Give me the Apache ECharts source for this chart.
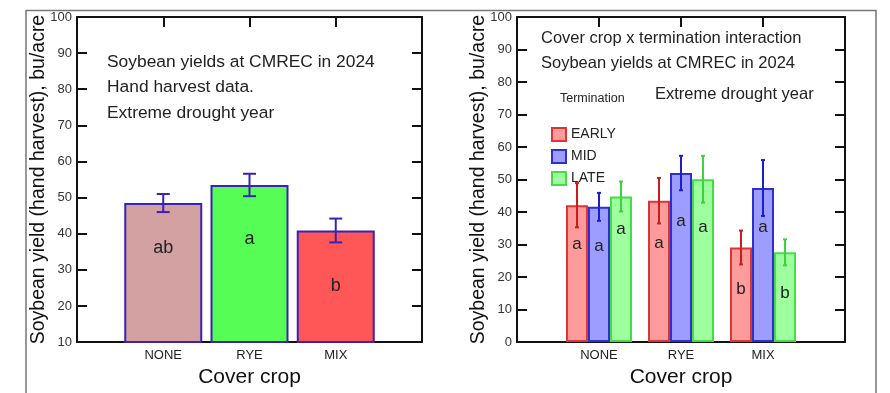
<!DOCTYPE html>
<html>
<head>
<meta charset="utf-8">
<script src="https://cdn.jsdelivr.net/npm/echarts@6/dist/echarts.min.js"></script>
<style>
  html, body { margin: 0; padding: 0; background: #fff; }
  #chart { width: 890px; height: 393px; }
</style>
</head>
<body>
<div id="chart"></div>
<script>
// cover crops on the x axis
const crops = ['NONE', 'RYE', 'MIX']
const yTicksLeft = [10, 20, 30, 40, 50, 60, 70, 80, 90, 100]
const yTicksRight = [0, 10, 20, 30, 40, 50, 60, 70, 80, 90, 100]

// left panel: cover crop main effect
const yieldMain = [48.5, 53.5, 40.9]
const errMain = [2.5, 3.1, 3.3]
const lettersMain = ['ab', 'a', 'b']
const letterAtMain = [36, 38.4, 25.6]

// right panel: cover crop x termination
const terms = ['EARLY', 'MID', 'LATE']
const yieldEarly = [42.1, 43.5, 29.1]
const yieldMid = [41.6, 52.0, 47.4]
const yieldLate = [44.8, 50.1, 27.6]
const errEarly = [6.8, 7.0, 5.2]
const errMid = [4.3, 5.3, 8.6]
const errLate = [4.6, 7.2, 4.0]
const lettersEarly = ['a', 'a', 'b']
const lettersMid = ['a', 'a', 'a']
const lettersLate = ['a', 'a', 'b']
const letterAtEarly = [30.0, 30.5, 16.3]
const letterAtMid = [29.6, 37.1, 35.2]
const letterAtLate = [34.8, 35.3, 15.1]

const FONT = '"Liberation Sans", Arial, sans-serif'
const axisCats = [''].concat(crops, [''])
const dark = '#111'

function xAxes (gridIndex) {
  return [
    {
      type: 'category', gridIndex, data: axisCats, boundaryGap: false, position: 'bottom',
      axisLine: { show: true, onZero: false, lineStyle: { color: dark, width: 2 } },
      axisTick: { show: false },
      axisLabel: { color: '#222', fontSize: 13, fontFamily: FONT, margin: 7, interval: 0 },
      name: 'Cover crop', nameLocation: 'middle', nameGap: 23,
      nameTextStyle: { fontSize: 21, color: dark, fontFamily: FONT }
    },
    {
      type: 'category', gridIndex, data: axisCats, boundaryGap: false, position: 'top',
      axisLine: { show: true, onZero: false, lineStyle: { color: dark, width: 2 } },
      axisTick: { show: true, inside: true, length: 10, lineStyle: { color: dark, width: 2 }, interval: (i, v) => v !== '' },
      axisLabel: { show: false }
    }
  ]
}

function yAxes (gridIndex, ticks) {
  const base = {
    type: 'value', gridIndex,
    min: ticks[0], max: ticks[ticks.length - 1], interval: ticks[1] - ticks[0],
    splitLine: { show: false },
    axisLine: { show: true, onZero: false, lineStyle: { color: dark, width: 2 } },
    axisTick: { show: true, inside: true, length: 10, lineStyle: { color: dark, width: 2 } }
  }
  return [
    Object.assign({}, base, {
      position: 'left',
      axisLabel: { color: '#333', fontSize: 13, margin: 5, fontFamily: FONT },
      name: 'Soybean yield (hand harvest), bu/acre', nameLocation: 'middle', nameGap: 28,
      nameMoveOverlap: false,
      nameTextStyle: { fontSize: 19.5, color: dark, fontFamily: FONT }
    }),
    Object.assign({}, base, { position: 'right', axisLabel: { show: false } })
  ]
}

// error bar + significance letter, drawn through the axes
function marks (offset, color, capW, letters, fontSize) {
  return function (params, api) {
    const lo = api.coord([api.value(0), api.value(1)])
    const hi = api.coord([api.value(0), api.value(2)])
    const at = api.coord([api.value(0), api.value(3)])
    const x = lo[0] + offset
    const ls = { stroke: color, lineWidth: 2 }
    const kids = [{ type: 'line', shape: { x1: x, y1: lo[1], x2: x, y2: hi[1] }, style: ls }]
    if (capW) {
      kids.push({ type: 'line', shape: { x1: x - capW / 2, y1: lo[1], x2: x + capW / 2, y2: lo[1] }, style: ls })
      kids.push({ type: 'line', shape: { x1: x - capW / 2, y1: hi[1], x2: x + capW / 2, y2: hi[1] }, style: ls })
    }
    kids.push({
      type: 'text',
      style: { text: letters[params.dataIndex], x: x, y: at[1], align: 'center', verticalAlign: 'middle', fill: '#222', font: fontSize + 'px ' + FONT }
    })
    return { type: 'group', children: kids }
  }
}

function markData (vals, errs, letterAt) {
  return vals.map((v, i) => [i + 1, v - errs[i], v + errs[i], letterAt[i]])
}

const mainColors = ['#d3a1a1', '#55fd55', '#ff5757']
const termFill = ['#ff9b9b', '#9d9dff', '#9dff9d']
const termBorder = ['#dd3434', '#2e2ed2', '#44dd44']
const termErr = ['#c81e1e', '#1e1ec8', '#3ed23e']
const termVals = [yieldEarly, yieldMid, yieldLate]
const termErrs = [errEarly, errMid, errLate]
const termLetters = [lettersEarly, lettersMid, lettersLate]
const termLetterAt = [letterAtEarly, letterAtMid, letterAtLate]
const BW = 22

const series = [
  {
    type: 'bar', xAxisIndex: 0, yAxisIndex: 0, barWidth: 78, clip: true,
    data: crops.map((c, i) => ({ value: [i + 1, yieldMain[i]], itemStyle: { color: mainColors[i] } })),
    itemStyle: { borderColor: '#3b22b4', borderWidth: 2 }
  },
  {
    type: 'custom', xAxisIndex: 0, yAxisIndex: 0, z: 5,
    data: markData(yieldMain, errMain, letterAtMain),
    renderItem: marks(0, '#3b22b4', 13, lettersMain, 18)
  }
]
terms.forEach((t, k) => {
  series.push({
    name: t, type: 'bar', xAxisIndex: 2, yAxisIndex: 2, barWidth: BW, barGap: '0%', clip: true,
    data: termVals[k].map((v, i) => [i + 1, v]),
    itemStyle: { color: termFill[k], borderColor: termBorder[k], borderWidth: 2 }
  })
})
terms.forEach((t, k) => {
  series.push({
    type: 'custom', xAxisIndex: 2, yAxisIndex: 2, z: 5,
    data: markData(termVals[k], termErrs[k], termLetterAt[k]),
    renderItem: marks((k - 1) * BW, termErr[k], 4, termLetters[k], 17)
  })
})

function txt (x, y, s, size) {
  return { type: 'text', left: x, top: y - size / 2 - 1, style: { text: s, fill: '#222', font: size + 'px ' + FONT } }
}

const chart = echarts.init(document.getElementById('chart'))
chart.setOption({
  animation: false,
  backgroundColor: '#fff',
  grid: [
    { left: 77, right: 468, top: 17, bottom: 47 },
    { left: 517, right: 45, top: 17, bottom: 47 }
  ],
  xAxis: xAxes(0).concat(xAxes(1)),
  yAxis: yAxes(0, yTicksLeft).concat(yAxes(1, yTicksRight)),
  legend: {
    data: terms, orient: 'vertical', left: 546, top: 122, icon: 'rect',
    itemWidth: 14, itemHeight: 13, itemGap: 7, selectedMode: false,
    textStyle: { fontSize: 14, color: '#222', fontFamily: FONT }
  },
  graphic: [
    { type: 'rect', z: -1, shape: { x: 26, y: 10.5, width: 850, height: 400 }, style: { fill: 'none', stroke: '#777', lineWidth: 1.5 } },
    txt(107, 63, 'Soybean yields at CMREC in 2024', 17.4),
    txt(107, 88, 'Hand harvest data.', 17.4),
    txt(107, 114, 'Extreme drought year', 17.4),
    txt(541, 39, 'Cover crop x termination interaction', 16.5),
    txt(541, 64, 'Soybean yields at CMREC in 2024', 16.5),
    txt(655, 95, 'Extreme drought year', 16.5),
    txt(560, 99, 'Termination', 12.5)
  ],
  series
})
</script>
</body>
</html>
